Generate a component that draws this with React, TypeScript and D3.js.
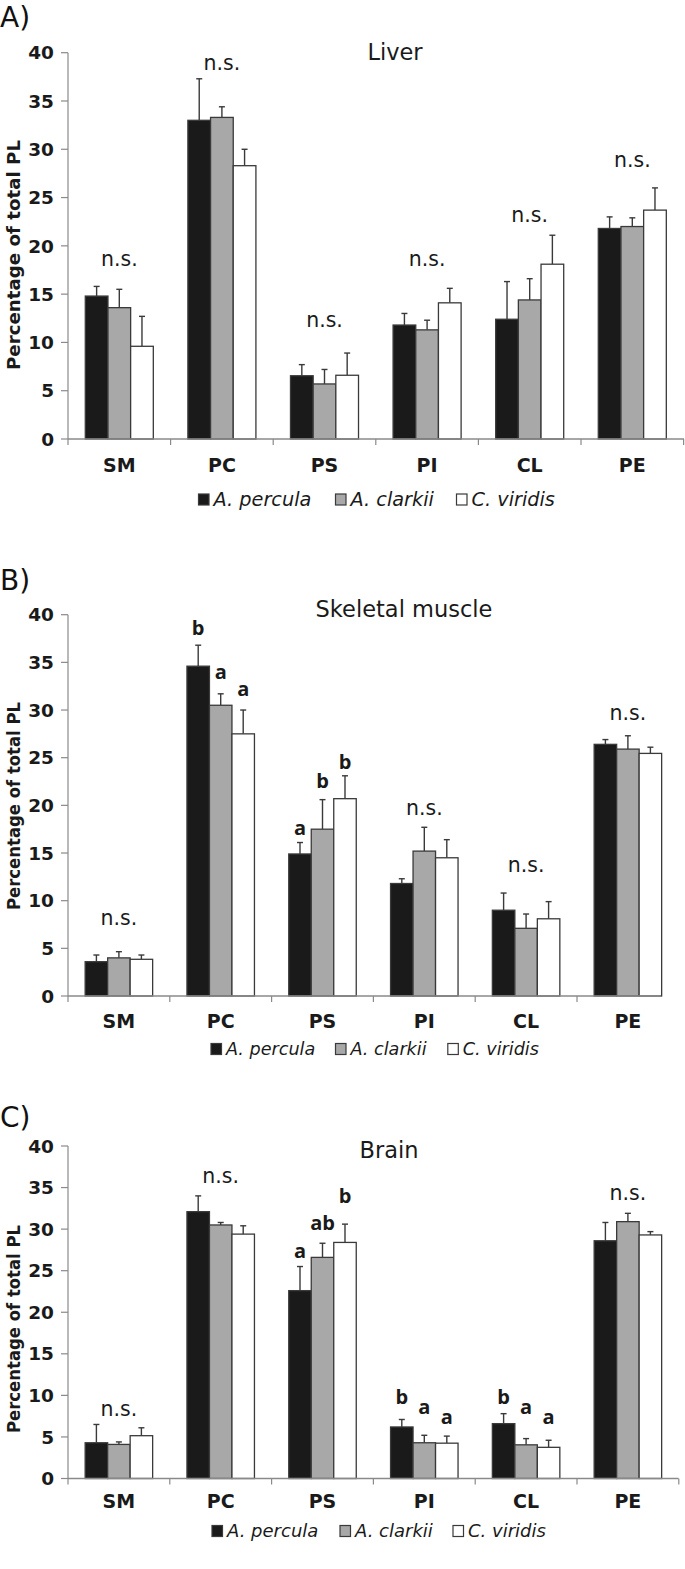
import React from "react";
import * as d3 from "d3";

const categories = ["SM", "PC", "PS", "PI", "CL", "PE"];
const species = ["A. percula", "A. clarkii", "C. viridis"];
const yTicks = [0, 5, 10, 15, 20, 25, 30, 35, 40];

// Liver
const liverPercula = [14.8, 33.0, 6.55, 11.8, 12.4, 21.8];
const liverClarkii = [13.6, 33.3, 5.7, 11.3, 14.4, 22.0];
const liverViridis = [9.6, 28.3, 6.6, 14.1, 18.1, 23.7];
const liverPerculaSE = [1.0, 4.3, 1.15, 1.2, 3.9, 1.2];
const liverClarkiiSE = [1.9, 1.1, 1.5, 1.0, 2.2, 0.9];
const liverViridisSE = [3.1, 1.7, 2.3, 1.5, 3.0, 2.3];

// Skeletal muscle
const musclePercula = [3.6, 34.6, 14.9, 11.8, 9.0, 26.4];
const muscleClarkii = [4.0, 30.5, 17.5, 15.2, 7.1, 25.9];
const muscleViridis = [3.85, 27.5, 20.7, 14.5, 8.1, 25.45];
const musclePerculaSE = [0.7, 2.2, 1.2, 0.5, 1.8, 0.5];
const muscleClarkiiSE = [0.65, 1.2, 3.1, 2.5, 1.5, 1.4];
const muscleViridisSE = [0.45, 2.5, 2.4, 1.9, 1.8, 0.65];

// Brain
const brainPercula = [4.3, 32.1, 22.6, 6.2, 6.6, 28.6];
const brainClarkii = [4.1, 30.5, 26.6, 4.3, 4.05, 30.9];
const brainViridis = [5.15, 29.4, 28.4, 4.25, 3.75, 29.3];
const brainPerculaSE = [2.2, 1.9, 2.9, 0.9, 1.2, 2.2];
const brainClarkiiSE = [0.3, 0.3, 1.7, 0.9, 0.75, 1.0];
const brainViridisSE = [0.95, 1.0, 2.2, 0.85, 0.85, 0.4];

// annotations: [category, series index (-1 = group centre), text, y value]
const liverNotes: [string, number, string, number][] = [
  ["SM", -1, "n.s.", 17.9],
  ["PC", -1, "n.s.", 38.2],
  ["PS", -1, "n.s.", 11.6],
  ["PI", -1, "n.s.", 17.9],
  ["CL", -1, "n.s.", 22.5],
  ["PE", -1, "n.s.", 28.2],
];
const muscleNotes: [string, number, string, number][] = [
  ["SM", -1, "n.s.", 7.5],
  ["PC", 0, "b", 37.9],
  ["PC", 1, "a", 33.3],
  ["PC", 2, "a", 31.5],
  ["PS", 0, "a", 16.9],
  ["PS", 1, "b", 21.85],
  ["PS", 2, "b", 23.8],
  ["PI", -1, "n.s.", 19.0],
  ["CL", -1, "n.s.", 13.0],
  ["PE", -1, "n.s.", 28.95],
];
const brainNotes: [string, number, string, number][] = [
  ["SM", -1, "n.s.", 7.56],
  ["PC", -1, "n.s.", 35.5],
  ["PS", 0, "a", 26.5],
  ["PS", 1, "ab", 29.9],
  ["PS", 2, "b", 33.2],
  ["PI", 0, "b", 9.0],
  ["PI", 1, "a", 7.7],
  ["PI", 2, "a", 6.6],
  ["CL", 0, "b", 9.0],
  ["CL", 1, "a", 7.76],
  ["CL", 2, "a", 6.5],
  ["PE", -1, "n.s.", 33.5],
];

const fills = ["#1a1a1a", "#a8a8a8", "#ffffff"];
const FONT = "'DejaVu Sans', 'Liberation Sans', Arial, sans-serif";

interface PanelCfg {
  label: string;
  labelY: number;
  title: string;
  titleX: number;
  titleY: number;
  yTop: number;
  y0: number;
  cw: number;
  axisRight: number;
  catLabelY: number;
  legendY: number;
  legendXs: number[];
  legendFont: number;
  yTitleCenter: number;
  yTitleLen: number;
  values: number[][];
  errs: number[][];
  notes: [string, number, string, number][];
}

const AXIS_X = 68;

const panels: PanelCfg[] = [
  {
    label: "A)", labelY: 27, title: "Liver", titleX: 395, titleY: 59.5,
    yTop: 52.7, y0: 439, cw: 102.6, axisRight: 684, catLabelY: 471.7,
    legendY: 494, legendXs: [198.5, 335.5, 456.5], legendFont: 19.3,
    yTitleCenter: 255, yTitleLen: 230,
    values: [liverPercula, liverClarkii, liverViridis],
    errs: [liverPerculaSE, liverClarkiiSE, liverViridisSE],
    notes: liverNotes,
  },
  {
    label: "B)", labelY: 590, title: "Skeletal muscle", titleX: 404, titleY: 617,
    yTop: 614.7, y0: 996, cw: 101.8, axisRight: 660.5, catLabelY: 1028.3,
    legendY: 1043.5, legendXs: [211, 335.5, 447.8], legendFont: 17.6,
    yTitleCenter: 806, yTitleLen: 208,
    values: [musclePercula, muscleClarkii, muscleViridis],
    errs: [musclePerculaSE, muscleClarkiiSE, muscleViridisSE],
    notes: muscleNotes,
  },
  {
    label: "C)", labelY: 1127, title: "Brain", titleX: 389, titleY: 1157.7,
    yTop: 1146, y0: 1478.5, cw: 101.8, axisRight: 678.5, catLabelY: 1508.3,
    legendY: 1525.5, legendXs: [212, 340, 453], legendFont: 18,
    yTitleCenter: 1329, yTitleLen: 208,
    values: [brainPercula, brainClarkii, brainViridis],
    errs: [brainPerculaSE, brainClarkiiSE, brainViridisSE],
    notes: brainNotes,
  },
];

function Panel({ cfg }: { cfg: PanelCfg }) {
  const y = d3.scaleLinear().domain([0, 40]).range([cfg.y0, cfg.yTop]);
  const x = d3
    .scaleBand<string>()
    .domain(categories)
    .range([AXIS_X, AXIS_X + 6 * cfg.cw])
    .paddingInner(0.337)
    .paddingOuter(0.337 / 2);
  const xs = d3
    .scaleBand<number>()
    .domain([0, 1, 2])
    .range([0, x.bandwidth()]);
  const boundaries = d3.range(7).map((i) => AXIS_X + i * x.step()).filter((v) => v <= cfg.axisRight + 1);
  const axisColor = "#8a8a8a";

  return (
    <g>
      <text x={0} y={cfg.labelY} fontFamily={FONT} fontSize={28} fill="#111">
        {cfg.label}
      </text>
      <text x={cfg.titleX} y={cfg.titleY} textAnchor="middle" fontFamily={FONT} fontSize={22.5} fill="#1a1a1a">
        {cfg.title}
      </text>
      <text
        transform={`translate(19.5,${cfg.yTitleCenter}) rotate(-90)`}
        textAnchor="middle"
        fontFamily={FONT}
        fontWeight="bold"
        fontSize={18.5}
        textLength={cfg.yTitleLen}
        lengthAdjust="spacingAndGlyphs"
        fill="#1a1a1a"
      >
        Percentage of total PL
      </text>
      {/* y axis */}
      <line x1={AXIS_X} x2={AXIS_X} y1={y(40)} y2={y(0)} stroke={axisColor} strokeWidth={1.2} />
      {yTicks.map((t) => (
        <g key={t}>
          <line x1={AXIS_X - 7} x2={AXIS_X} y1={y(t)} y2={y(t)} stroke={axisColor} strokeWidth={1.2} />
          <text
            x={AXIS_X - 14}
            y={y(t)}
            dy="0.36em"
            textAnchor="end"
            fontFamily={FONT}
            fontWeight="bold"
            fontSize={18.5}
            fill="#1a1a1a"
          >
            {t}
          </text>
        </g>
      ))}
      {/* bars */}
      {categories.map((c, ci) =>
        [0, 1, 2].map((si) => {
          const v = cfg.values[si][ci];
          const e = cfg.errs[si][ci];
          const bx = (x(c) as number) + (xs(si) as number);
          const cx = bx + xs.bandwidth() / 2;
          return (
            <g key={c + si}>
              <line x1={cx} x2={cx} y1={y(v)} y2={y(v + e)} stroke="#3a3a3a" strokeWidth={1.4} />
              <line x1={cx - 3} x2={cx + 3} y1={y(v + e)} y2={y(v + e)} stroke="#3a3a3a" strokeWidth={1.4} />
              <rect
                x={bx}
                y={y(v)}
                width={xs.bandwidth()}
                height={y(0) - y(v)}
                fill={fills[si]}
                stroke="#3a3a3a"
                strokeWidth={1.3}
              />
            </g>
          );
        })
      )}
      {/* x axis */}
      <line x1={AXIS_X} x2={cfg.axisRight} y1={y(0)} y2={y(0)} stroke={axisColor} strokeWidth={1.3} />
      {boundaries.map((b, i) => (
        <line key={i} x1={b} x2={b} y1={y(0)} y2={y(0) + 6} stroke={axisColor} strokeWidth={1.2} />
      ))}
      {categories.map((c) => (
        <text
          key={c}
          x={(x(c) as number) + x.bandwidth() / 2}
          y={cfg.catLabelY}
          textAnchor="middle"
          fontFamily={FONT}
          fontWeight="bold"
          fontSize={19}
          fill="#1a1a1a"
        >
          {c}
        </text>
      ))}
      {/* annotations */}
      {cfg.notes.map(([c, si, txt, val], i) => {
        const cx =
          si < 0
            ? (x(c) as number) + x.bandwidth() / 2
            : (x(c) as number) + (xs(si) as number) + xs.bandwidth() / 2;
        const isNs = txt === "n.s.";
        return (
          <text
            key={i}
            x={cx}
            y={y(val)}
            textAnchor="middle"
            fontFamily={isNs ? FONT : "'Open Sans', 'DejaVu Sans', sans-serif"}
            fontWeight={isNs ? "normal" : "bold"}
            fontSize={isNs ? 20.5 : 20}
            fill="#1a1a1a"
          >
            {txt}
          </text>
        );
      })}
      {/* legend */}
      {species.map((s, si) => (
        <g key={s}>
          <rect
            x={cfg.legendXs[si]}
            y={cfg.legendY}
            width={10.5}
            height={11}
            fill={fills[si]}
            stroke="#3a3a3a"
            strokeWidth={1.2}
          />
          <text
            x={cfg.legendXs[si] + 15}
            y={cfg.legendY + 11.5}
            fontFamily={FONT}
            fontStyle="italic"
            fontSize={cfg.legendFont}
            fill="#1a1a1a"
          >
            {s}
          </text>
        </g>
      ))}
    </g>
  );
}

export default function App() {
  return (
    <svg
      width={685}
      height={1569}
      viewBox="0 0 685 1569"
      style={{ position: "absolute", left: 0, top: 0, display: "block", background: "#fff" }}
    >
      <rect x={0} y={0} width={685} height={1569} fill="#fff" />
      {panels.map((p) => (
        <Panel key={p.label} cfg={p} />
      ))}
    </svg>
  );
}
